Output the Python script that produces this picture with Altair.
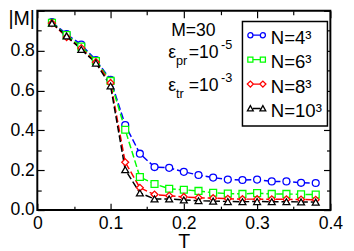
import altair as alt
import pandas as pd

FONT = "Liberation Sans"

# ---- data ----
T = [0.02, 0.04, 0.06, 0.08, 0.10, 0.12, 0.14, 0.16, 0.18, 0.20,
     0.22, 0.24, 0.26, 0.28, 0.30, 0.32, 0.34, 0.36, 0.38]
M_N4 = [0.943, 0.883, 0.830, 0.753, 0.654, 0.427, 0.283, 0.216, 0.212, 0.192,
        0.176, 0.163, 0.153, 0.151, 0.153, 0.144, 0.144, 0.137, 0.136]
M_N6 = [0.940, 0.878, 0.820, 0.748, 0.648, 0.403, 0.166, 0.131, 0.107, 0.102,
        0.096, 0.087, 0.083, 0.081, 0.085, 0.081, 0.081, 0.079, 0.078]
M_N8 = [0.938, 0.868, 0.813, 0.742, 0.638, 0.240, 0.112, 0.078, 0.072, 0.066,
        0.062, 0.060, 0.057, 0.055, 0.055, 0.054, 0.054, 0.053, 0.052]
M_N10 = [0.938, 0.874, 0.806, 0.738, 0.623, 0.203, 0.086, 0.056, 0.056, 0.051,
         0.047, 0.045, 0.043, 0.042, 0.043, 0.042, 0.042, 0.041, 0.040]

series_names = ["N=4³", "N=6³", "N=8³", "N=10³"]
colors = ["#0000ff", "#00ff00", "#ff0000", "#000000"]
shapes = ["circle", "square", "diamond", "triangle-up"]

x_major = [0, 0.1, 0.2, 0.3, 0.4]
x_minor = [0.05, 0.15, 0.25, 0.35]
y_labels = [0, 0.2, 0.4, 0.6, 0.8]
y_major = [0, 0.2, 0.4, 0.6, 0.8, 1.0]
y_minor = [0.1, 0.3, 0.5, 0.7, 0.9]


# ---- legend sample glyphs ("o-o"): marker, short line, marker ----
SYM_SIZE = 484            # 22 px legend symbol box
U = (SYM_SIZE ** 0.5) / 2  # px per path unit


def _p(v):
    return f"{v / U:.3f}"


def _marker(kind, cx, cy, r):
    if kind == "circle":
        return (f"M {_p(cx - r)} {_p(cy)} A {_p(r)} {_p(r)} 0 1 1 {_p(cx + r)} {_p(cy)} "
                f"A {_p(r)} {_p(r)} 0 1 1 {_p(cx - r)} {_p(cy)} Z")
    if kind == "square":
        return (f"M {_p(cx - r)} {_p(cy - r)} L {_p(cx + r)} {_p(cy - r)} "
                f"L {_p(cx + r)} {_p(cy + r)} L {_p(cx - r)} {_p(cy + r)} Z")
    if kind == "diamond":
        r = r * 1.2
        return (f"M {_p(cx - r)} {_p(cy)} L {_p(cx)} {_p(cy - r)} "
                f"L {_p(cx + r)} {_p(cy)} L {_p(cx)} {_p(cy + r)} Z")
    r = r * 1.15
    return (f"M {_p(cx - r)} {_p(cy + 0.8 * r)} L {_p(cx)} {_p(cy - r)} "
            f"L {_p(cx + r)} {_p(cy + 0.8 * r)} Z")


def legend_glyph(kind, x0=-11.5, x1=6.5, dy=-3.0, r=2.6):
    c1, c2 = x0 + r, x1 - r
    return (_marker(kind, c1, dy, r) + f" M {_p(c1 + r)} {_p(dy)} L {_p(c2 - r)} {_p(dy)} "
            + _marker(kind, c2, dy, r))


legend_shapes = [legend_glyph(k) for k in shapes]

rows = []
for name, vals in zip(series_names, [M_N4, M_N6, M_N8, M_N10]):
    for t, m in zip(T, vals):
        rows.append({"T": t, "M": m, "series": name, "leg": name})
df = pd.DataFrame(rows)

base = alt.Chart(df)
xs = alt.Scale(domain=[0, 0.4], nice=False, zero=False)
ys = alt.Scale(domain=[0, 1.0], nice=False, zero=False)
cscale = alt.Scale(domain=series_names, range=colors)
sscale = alt.Scale(domain=series_names, range=shapes)


def X(axis):
    return alt.X("T:Q", scale=xs, axis=axis)


def Y(axis):
    return alt.Y("M:Q", scale=ys, axis=axis)


def tick_axis(orient, vals, size):
    return alt.Axis(orient=orient, values=vals, labels=False, domain=False,
                    grid=False, ticks=True, tickSize=size, offset=-size,
                    tickColor="black", tickWidth=1.2, title=None)


x_axis_main = alt.Axis(
    orient="bottom", values=x_major,
    labelExpr="datum.value == 0 ? '0' : format(datum.value, '.1f')",
    ticks=False, domain=False, grid=False, labelFont=FONT, labelFontSize=18,
    labelColor="black", labelPadding=5, labelFlush=False, labelOverlap=False,
    title="T", titleFont=FONT, titleFontSize=20, titleFontWeight="normal",
    titleColor="black", titleBaseline="alphabetic", titleY=38)
y_axis_main = alt.Axis(
    orient="left", values=y_labels, format=".1f",
    ticks=False, domain=False, grid=False, labelFont=FONT, labelFontSize=18,
    labelColor="black", labelPadding=3, labelOverlap=False,
    title="|M|", titleFont=FONT, titleFontSize=20, titleFontWeight="normal",
    titleColor="black", titleAngle=0, titleAlign="left",
    titleBaseline="alphabetic", titleX=-30, titleY=14)

lines = base.mark_line(strokeDash=[7, 3], strokeWidth=1.5).encode(
    x=X(x_axis_main), y=Y(y_axis_main),
    color=alt.Color("series:N", scale=cscale, legend=None))

points = base.mark_point(size=50, strokeWidth=1.3, filled=False, fill="white",
                         fillOpacity=1, opacity=1).encode(
    x=X(None), y=Y(None),
    color=alt.Color("series:N", scale=cscale, legend=None),
    shape=alt.Shape("series:N", scale=sscale, legend=None))

empty = base.transform_filter("false")
ticks_bl_major = empty.mark_point().encode(
    x=X(tick_axis("bottom", x_major, 7)), y=Y(tick_axis("left", y_major, 7)))
ticks_tr_major = empty.mark_point().encode(
    x=X(tick_axis("top", x_major, 7)), y=Y(tick_axis("right", y_major, 7)))
ticks_bl_minor = empty.mark_point().encode(
    x=X(tick_axis("bottom", x_minor, 4)), y=Y(tick_axis("left", y_minor, 4)))
ticks_tr_minor = empty.mark_point().encode(
    x=X(tick_axis("top", x_minor, 4)), y=Y(tick_axis("right", y_minor, 4)))

leg = alt.Legend(orient="none", legendX=210, legendY=11, title=None,
                 labelFont=FONT, labelFontSize=19, labelColor="black",
                 symbolSize=SYM_SIZE, symbolStrokeWidth=1.3, symbolOpacity=1,
                 padding=5, rowPadding=3, labelOffset=0,
                 strokeColor="black", fillColor="white", labelLimit=300)
legend_layer = empty.mark_point(filled=False, strokeWidth=1.3).encode(
    x=X(None), y=Y(None),
    color=alt.Color("leg:N", scale=alt.Scale(domain=series_names, range=colors), legend=leg),
    shape=alt.Shape("leg:N", scale=alt.Scale(domain=series_names, range=legend_shapes), legend=leg))

# annotation pieces: text, page x, page baseline y, font size
ann_text = ["M=30", "ε", "pr", "=10", "-5", "ε", "tr", "=10", "-3"]
ann_x = [175, 172, 180, 193, 226, 172, 180, 193, 226]
ann_y = [34, 56.5, 63.5, 56.5, 47.5, 90, 97, 90, 81]
ann_size = [18, 18, 13, 18, 13, 18, 13, 18, 13]

texts = []
for s, px, py, fs in zip(ann_text, ann_x, ann_y, ann_size):
    texts.append(
        alt.Chart(pd.DataFrame({"t": [s]})).mark_text(
            align="left", baseline="alphabetic", font=FONT, fontSize=fs,
            color="black").encode(x=alt.value(px - 38), y=alt.value(py - 8),
                                  text="t:N"))

chart = alt.layer(
    lines, points, ticks_bl_major, ticks_tr_major, ticks_bl_minor,
    ticks_tr_minor, legend_layer, *texts
).resolve_axis(x="independent", y="independent").resolve_scale(
    shape="independent", color="independent"
).properties(
    width=300, height=204,
    padding={"left": 30, "top": 0, "right": 16, "bottom": 39},
    autosize=alt.AutoSizeParams(type="none"),
    background="white",
).configure_view(stroke="black", strokeWidth=2).configure_legend(strokeWidth=1.5)

chart.save("out.html", embed_options={"renderer": "svg", "actions": False})
